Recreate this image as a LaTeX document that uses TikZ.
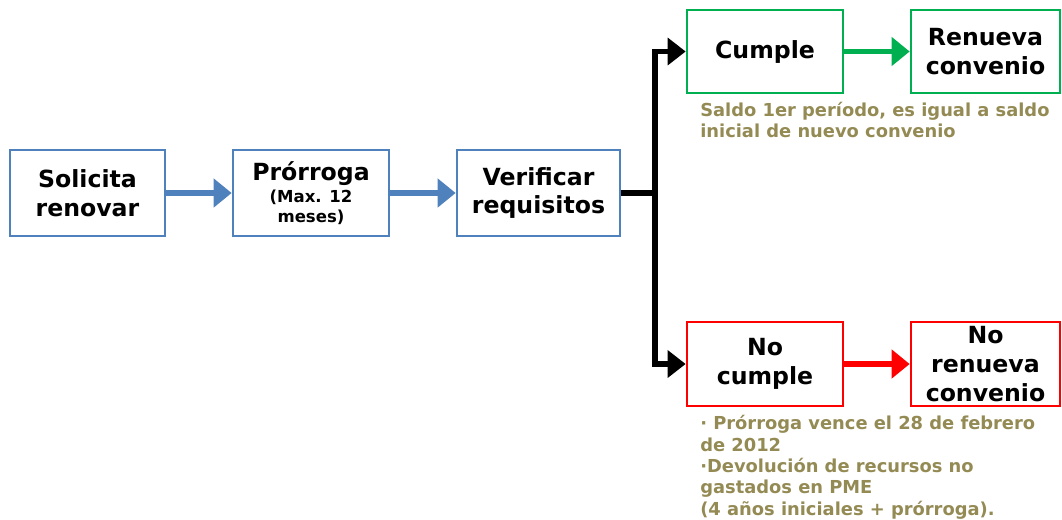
\documentclass[tikz,border=0pt]{standalone}
\usepackage{fontspec}
\setmainfont{DejaVu Sans}
\usetikzlibrary{arrows.meta}
\definecolor{bblue}{HTML}{4F81BD}
\definecolor{bgreen}{HTML}{00B050}
\definecolor{bred}{HTML}{FF0000}
\definecolor{olivetxt}{HTML}{948A54}
\newcommand{\subsz}{\fontsize{12.4}{15}\selectfont}
\begin{document}
\begin{tikzpicture}[x=0.75pt,y=-0.75pt,
  box/.style={draw, line width=2pt, fill=white, inner sep=0pt, align=center,
    font=\bfseries\fontsize{17.7}{21.5}\selectfont},
  bluebox/.style={box, draw=bblue, minimum height=64.5pt},
  greenbox/.style={box, draw=bgreen, minimum height=62.25pt},
  redbox/.style={box, draw=bred, minimum height=63pt},
  flow/.style={line width=4pt, -{Triangle[length=13.5pt,width=21pt]}},
  branch/.style={line width=4pt, line join=miter, -{Triangle[length=13.5pt,width=20pt]}},
  note/.style={anchor=base west, inner sep=0pt, align=left, text=olivetxt,
    font=\bfseries\fontsize{13.4}{16}\selectfont}]
\useasboundingbox (0,0) rectangle (1062,519);

\node[bluebox, minimum width=116.25pt] (sol) at (87.5,193) {Solicita\\renovar};
\node[bluebox, minimum width=117pt] (pro) at (311,193)
  {Prórroga\\[-5.5pt]\subsz (Max. 12\\[-6.5pt]\subsz meses)};
\node[bluebox, minimum width=122.25pt] (ver) at (538.5,193) {Verificar\\requisitos};

\node[greenbox, minimum width=117pt] (cum) at (765,51.5) {Cumple};
\node[greenbox, minimum width=111.75pt] (ren) at (985.5,51.5) {Renueva\\convenio};

\node[redbox, minimum width=117pt] (ncum) at (765,364) {No\\cumple};
\node[redbox, minimum width=111.75pt] (nren) at (985.5,364) {No\\renueva\\convenio};

\draw[flow, bblue] (sol.east) -- (pro.west);
\draw[flow, bblue] (pro.east) -- (ver.west);
\draw[flow, bgreen] (cum.east) -- (ren.west);
\draw[flow, bred] (ncum.east) -- (nren.west);

\coordinate (j) at (655,193);
\draw[line width=4pt] (ver.east) -- (j);
\draw[branch] (j) |- (cum.west);
\draw[branch] (j) |- (ncum.west);

\node[note] (n1) at (700,137.5) {Saldo 1er período, es igual a saldo\\inicial de nuevo convenio};
\node[note] (n2) at (700,515) {· Prórroga vence el 28 de febrero\\de 2012\\·Devolución de recursos no\\gastados en PME\\(4 años iniciales + prórroga).};
\end{tikzpicture}
\end{document}
